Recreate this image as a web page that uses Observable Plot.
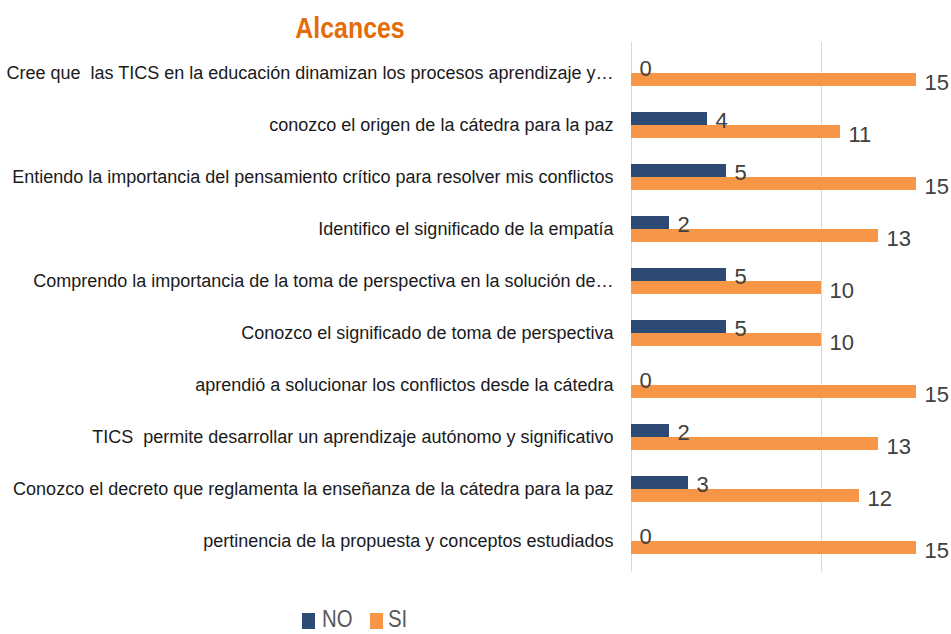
<!DOCTYPE html>
<html>
<head>
<meta charset="utf-8">
<script src="https://cdn.jsdelivr.net/npm/d3@7"></script>
<script src="https://cdn.jsdelivr.net/npm/@observablehq/plot@0.6"></script>
<style>
  body { margin: 0; background: #fff; width: 951px; font-family: "Liberation Sans", Arial, sans-serif; overflow: hidden; }
  #title { position: relative; height: 42px; }
  #title span { position: absolute; top: 11px; left: 0; width: 700px; text-align: center; font-size: 30px; font-weight: bold; color: #E36C09; transform: scaleX(0.83); transform-origin: 350px 50%; }
  svg text { white-space: pre; }
  #legend { position: relative; height: 62px; }
  .sw { position: absolute; top: 41px; width: 13px; height: 16px; }
  .lab { position: absolute; top: 37px; height: 20px; font-size: 24px; line-height: 20px; color: #595959; transform: scaleX(0.85); transform-origin: 0 50%; white-space: nowrap; }
</style>
</head>
<body>
<div id="title"><span>Alcances</span></div>
<div id="chart"></div>
<div id="legend"></div>
<script>
const categories = [
  "Cree que  las TICS en la educación dinamizan los procesos aprendizaje y…",
  "conozco el origen de la cátedra para la paz",
  "Entiendo la importancia del pensamiento crítico para resolver mis conflictos",
  "Identifico el significado de la empatía",
  "Comprendo la importancia de la toma de perspectiva en la solución de…",
  "Conozco el significado de toma de perspectiva",
  "aprendió a solucionar los conflictos desde la cátedra",
  "TICS  permite desarrollar un aprendizaje autónomo y significativo",
  "Conozco el decreto que reglamenta la enseñanza de la cátedra para la paz",
  "pertinencia de la propuesta y conceptos estudiados"
];
const noValues = [0, 4, 5, 2, 5, 5, 0, 2, 3, 0];
const siValues = [15, 11, 15, 13, 10, 10, 15, 13, 12, 15];
const seriesNames = ["NO", "SI"];
const seriesColors = ["#2C4A74", "#F79646"];
const gridTicks = [0, 10];

const rows = categories.map((c, i) => ({category: c, NO: noValues[i], SI: siValues[i]}));

const chart = Plot.plot({
  width: 951,
  height: 530,
  marginTop: 0,
  marginBottom: 0,
  marginLeft: 631,
  marginRight: 16,
  style: {fontFamily: "'Liberation Sans', Arial, sans-serif", background: "white", overflow: "visible"},
  x: {domain: [0, 16], axis: null},
  y: {type: "band", domain: categories, paddingInner: 0.509, paddingOuter: 0.2547, axis: null},
  marks: [
    Plot.ruleX(gridTicks, {stroke: "#d9d9d9", strokeWidth: 1}),
    Plot.barX(rows, {x: "NO", y: "category", fill: seriesColors[0], insetBottom: 13}),
    Plot.barX(rows, {x: "SI", y: "category", fill: seriesColors[1], insetTop: 13}),
    Plot.text(rows, {x: "NO", y: "category", text: d => String(d.NO), dx: 8, dy: -4.5, textAnchor: "start", fontSize: 22, fill: "#404040"}),
    Plot.text(rows, {x: "SI", y: "category", text: d => String(d.SI), dx: 8, dy: 9, textAnchor: "start", fontSize: 22, fill: "#404040"}),
    Plot.text(categories, {y: d => d, text: d => d, frameAnchor: "left", dx: -18, textAnchor: "end", fontSize: 18, fill: "#1a1a1a"})
  ]
});
document.getElementById("chart").appendChild(chart);

const legend = document.getElementById("legend");
const swatchLefts = [302, 370];
const labelLefts = [322, 388];
seriesNames.forEach((s, i) => {
  const sw = document.createElement("div");
  sw.className = "sw";
  sw.style.left = swatchLefts[i] + "px";
  sw.style.background = seriesColors[i];
  legend.appendChild(sw);
  const lab = document.createElement("div");
  lab.className = "lab";
  lab.style.left = labelLefts[i] + "px";
  lab.textContent = s;
  legend.appendChild(lab);
});
</script>
</body>
</html>
